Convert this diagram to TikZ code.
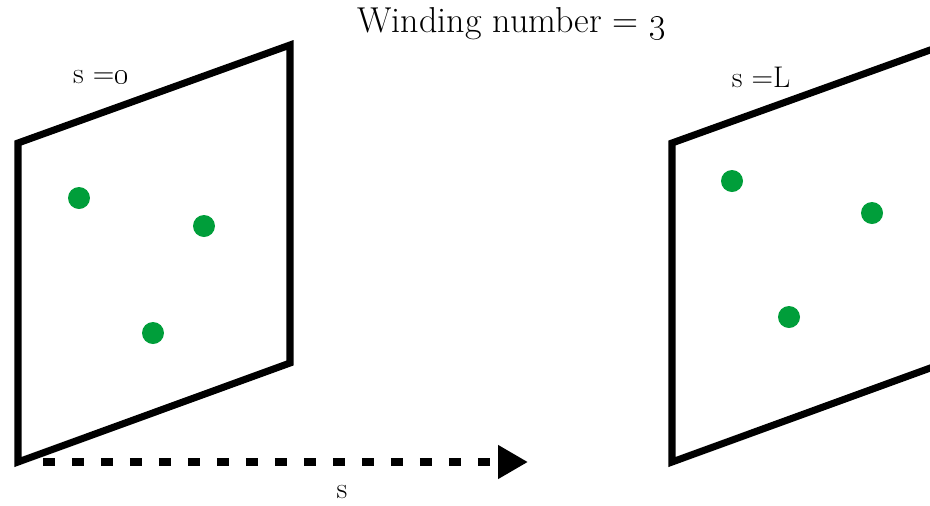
\documentclass[tikz,border=0pt]{standalone}
\usetikzlibrary{arrows.meta}
\definecolor{ink}{HTML}{000000}
\definecolor{charge}{HTML}{009E3A}
\tikzset{
  sheet/.style={draw=ink,line width=4pt,line join=miter},
  dot/.style={circle,fill=charge,minimum size=0.44cm,inner sep=0pt},
  lbl/.style={font=\fontsize{17}{20}\selectfont,text=ink,inner sep=0pt},
  flow/.style={-{Triangle[length=0.6cm,width=0.64cm]},draw=ink,line width=4.5pt,
    dash pattern=on 0.24cm off 0.34cm},
}
\begin{document}
\begin{tikzpicture}[x=0.02cm,y=-0.02cm]
  \useasboundingbox (0,0) rectangle (930,505);
  % title
  \node[lbl,font=\fontsize{20.5}{24}\selectfont] (title) at (512,24) {Winding number = \oldstylenums{3}};
  % sheet at s = 0
  \draw[sheet] (18,462) -- (18,143) -- (290,45) -- (290,363) -- cycle;
  \node[lbl] (start) at (101,77) {s =\oldstylenums{0}};
  \node[dot] (a1) at (79,198) {};
  \node[dot] (a2) at (204,226) {};
  \node[dot] (a3) at (153,333) {};
  % sheet at s = L (runs past the edge)
  \begin{scope}
    \clip (0,0) rectangle (930,505);
    \draw[sheet] (672,462) -- (672,143) -- (944,45) -- (944,363) -- cycle;
  \end{scope}
  \node[lbl] (stop) at (761,77) {s =L};
  \node[dot] (b1) at (732,181) {};
  \node[dot] (b2) at (872,213) {};
  \node[dot] (b3) at (789,317) {};
  % direction of s
  \coordinate (s0) at (43,462);
  \coordinate (s1) at (528,462);
  \draw[flow] (s0) -- (s1);
  \node[lbl] (axis) at (342,492) {s};
\end{tikzpicture}
\end{document}
